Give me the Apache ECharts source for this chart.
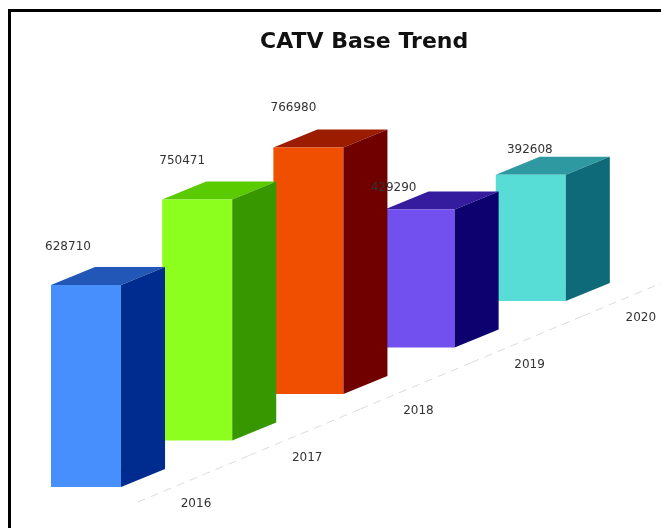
<!DOCTYPE html>
<html lang="en">
<head>
    <meta charset="UTF-8">
    <title>CATV Base Trend</title>
    <script src="https://cdn.jsdelivr.net/npm/echarts@6/dist/echarts.min.js"></script>
    <style>
        html, body { margin: 0; padding: 0; background: #fff; }
    </style>
</head>
<body>
<div id="main" style="width: 661px;height:528px;"></div>

<script type="text/javascript">
    var years = ['2016', '2017', '2018', '2019', '2020'];
    var baseValues = [628710, 750471, 766980, 429290, 392608];

    // front, side, top colour of each box
    var frontColors = ['#468ffc', '#8cff1e', '#f04e00', '#7150ef', '#57ddd5'];
    var sideColors = ['#002b8f', '#369700', '#700000', '#0d006f', '#0e6a78'];
    var topColors = ['#2257b8', '#5acb00', '#9c1c00', '#351c9e', '#2f99a1'];

    // the value labels were placed by hand in the original
    var labelShiftX = [-18, -15, -15, -26, -1];
    var labelShiftY = [-38, -39, -40, -22, -25];

    var riseStep = 46.5;   // floor climbs this much per category
    var depthX = 44;
    var depthY = 18;
    var font = '12px "DejaVu Sans"';

    function renderBox(params, api) {
        var i = params.dataIndex;
        var base = api.coord([api.value(0), 0]);
        var head = api.coord([api.value(0), api.value(1)]);
        var w = api.size([1, 0])[0] * 0.63;
        var x0 = base[0] - w / 2;
        var x1 = base[0] + w / 2;
        var rise = riseStep * i;
        var yb = base[1] - rise;
        var yt = head[1] - rise;
        var z = 100 - i * 10;

        return {
            type: 'group',
            children: [
                {
                    type: 'polygon',
                    z2: z + 1,
                    shape: { points: [[x1, yt], [x1 + depthX, yt - depthY], [x1 + depthX, yb - depthY], [x1, yb]] },
                    style: { fill: sideColors[i] }
                },
                {
                    type: 'polygon',
                    z2: z,
                    shape: { points: [[x0, yt], [x0 + depthX, yt - depthY], [x1 + depthX, yt - depthY], [x1, yt]] },
                    style: { fill: topColors[i] }
                },
                {
                    type: 'rect',
                    z2: z,
                    shape: { x: x0, y: yt, width: w, height: yb - yt },
                    style: { fill: frontColors[i] }
                },
                {
                    type: 'text',
                    z2: 200,
                    style: {
                        text: String(api.value(1)),
                        x: base[0] + labelShiftX[i],
                        y: yt + labelShiftY[i],
                        align: 'center',
                        verticalAlign: 'middle',
                        font: font,
                        fill: '#333'
                    }
                }
            ]
        };
    }

    // dashed floor line and the year under it
    function renderFloor(params, api) {
        var i = params.dataIndex;
        var base = api.coord([api.value(0), 0]);
        var band = api.size([1, 0])[0];
        var yb = base[1] - riseStep * i;
        return {
            type: 'group',
            children: [
                {
                    type: 'line',
                    shape: {
                        x1: base[0] + 52, y1: yb + 15,
                        x2: base[0] + 52 + band, y2: yb + 15 - riseStep
                    },
                    style: { stroke: '#dcdcdc', lineWidth: 1, lineDash: [8, 6] }
                },
                {
                    type: 'text',
                    style: {
                        text: years[i],
                        x: base[0] + 110,
                        y: yb + 17,
                        align: 'center',
                        verticalAlign: 'middle',
                        font: font,
                        fill: '#333'
                    }
                }
            ]
        };
    }

    var seriesData = baseValues.map(function (v, i) { return [years[i], v]; });

    var myChart = echarts.init(document.getElementById('main'));

    myChart.setOption({
        animation: false,
        backgroundColor: '#fff',
        title: {
            text: 'CATV Base Trend',
            left: 255,
            top: 26,
            textStyle: { fontFamily: 'DejaVu Sans', fontSize: 22, fontWeight: 'bold', color: '#111' }
        },
        grid: { left: 30.4, width: 556, bottom: 41, height: 257 },
        xAxis: { type: 'category', data: years, show: false },
        yAxis: { type: 'value', min: 0, max: 800000, show: false },
        graphic: [{
            type: 'polyline',
            shape: { points: [[9.5, 528], [9.5, 10.5], [661, 10.5]] },
            style: { stroke: '#000', lineWidth: 3, fill: null }
        }],
        series: [
            { type: 'custom', name: 'floor', renderItem: renderFloor, data: seriesData, z: 1 },
            { type: 'custom', name: 'CATV Base', renderItem: renderBox, data: seriesData, z: 2 }
        ]
    });
</script>
</body>
</html>
